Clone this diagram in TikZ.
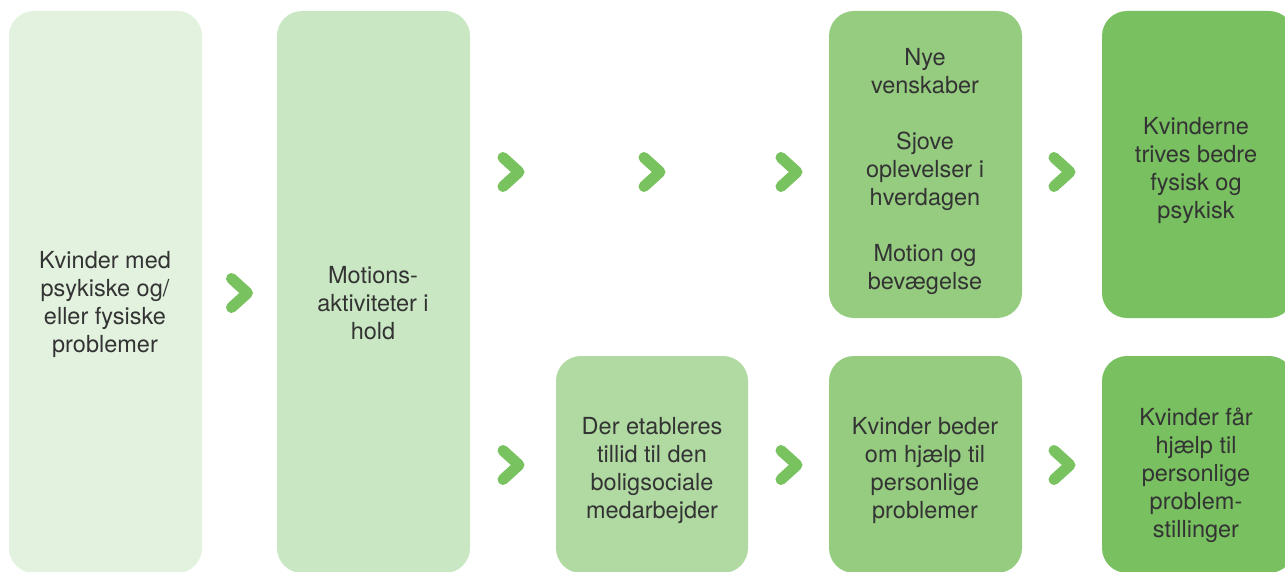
\documentclass[tikz,border=0pt]{standalone}
\usepackage{fontspec}
\setmainfont{TeX Gyre Heros}
\definecolor{cA}{HTML}{E2F2DF}
\definecolor{cB}{HTML}{C9E7C3}
\definecolor{cC}{HTML}{B0DAA2}
\definecolor{cD}{HTML}{95CC80}
\definecolor{cE}{HTML}{78C060}
\definecolor{chev}{HTML}{78C25F}
\definecolor{txt}{HTML}{333333}
\begin{document}
\begin{tikzpicture}[x=1pt,y=-1pt,
  box/.style={rounded corners=25pt},
  lbl/.style={text=txt,align=center,font=\fontsize{23.5}{28}\selectfont,inner sep=0pt},
  chevron/.style={draw=chev,line width=11pt,line cap=round,line join=round}]
\useasboundingbox (0,0) rectangle (1285,572);
\begin{scope}
\clip (0,0) rectangle (1285,572);
\fill[cA,box] (9,11) rectangle (202,573);
\fill[cB,box] (277,11) rectangle (470,573);
\fill[cC,box] (556,356) rectangle (748,573);
\fill[cD,box] (829,11) rectangle (1022,318);
\fill[cD,box] (829,356) rectangle (1022,573);
\fill[cE,box] (1102,11) rectangle (1294,318);
\fill[cE,box] (1102,356) rectangle (1294,573);
\end{scope}
\node[lbl] (t1) at (105,304) {Kvinder med\\psykiske og/\\eller fysiske\\problemer};
\node[lbl] (t2) at (373,303) {Motions-\\aktiviteter i\\hold};
\node[lbl] (t3) at (652,470) {Der etableres\\tillid til den\\boligsociale\\medarbejder};
\node[lbl] (t4) at (925,171) {Nye\\venskaber\\[28pt]Sjove\\oplevelser i\\hverdagen\\[28pt]Motion og\\bevægelse};
\node[lbl] (t5) at (925,470) {Kvinder beder\\om hjælp til\\personlige\\problemer};
\node[lbl] (t6) at (1196,170) {Kvinderne\\trives bedre\\fysisk og\\psykisk};
\node[lbl] (t7) at (1196,475) {Kvinder får\\hjælp til\\personlige\\problem-\\stillinger};
\foreach \n/\x/\y in {a/239.5/293, b/511/172, c/652/172, d/789/172, e/1062/172, f/511/465, g/789/465, h/1062/465}{
  \coordinate (ch\n) at (\x,\y);
  \draw[chevron] ([shift={(-8,-14.5)}]ch\n) -- ([shift={(8,0)}]ch\n) -- ([shift={(-8,14.5)}]ch\n);
}
\end{tikzpicture}
\end{document}
